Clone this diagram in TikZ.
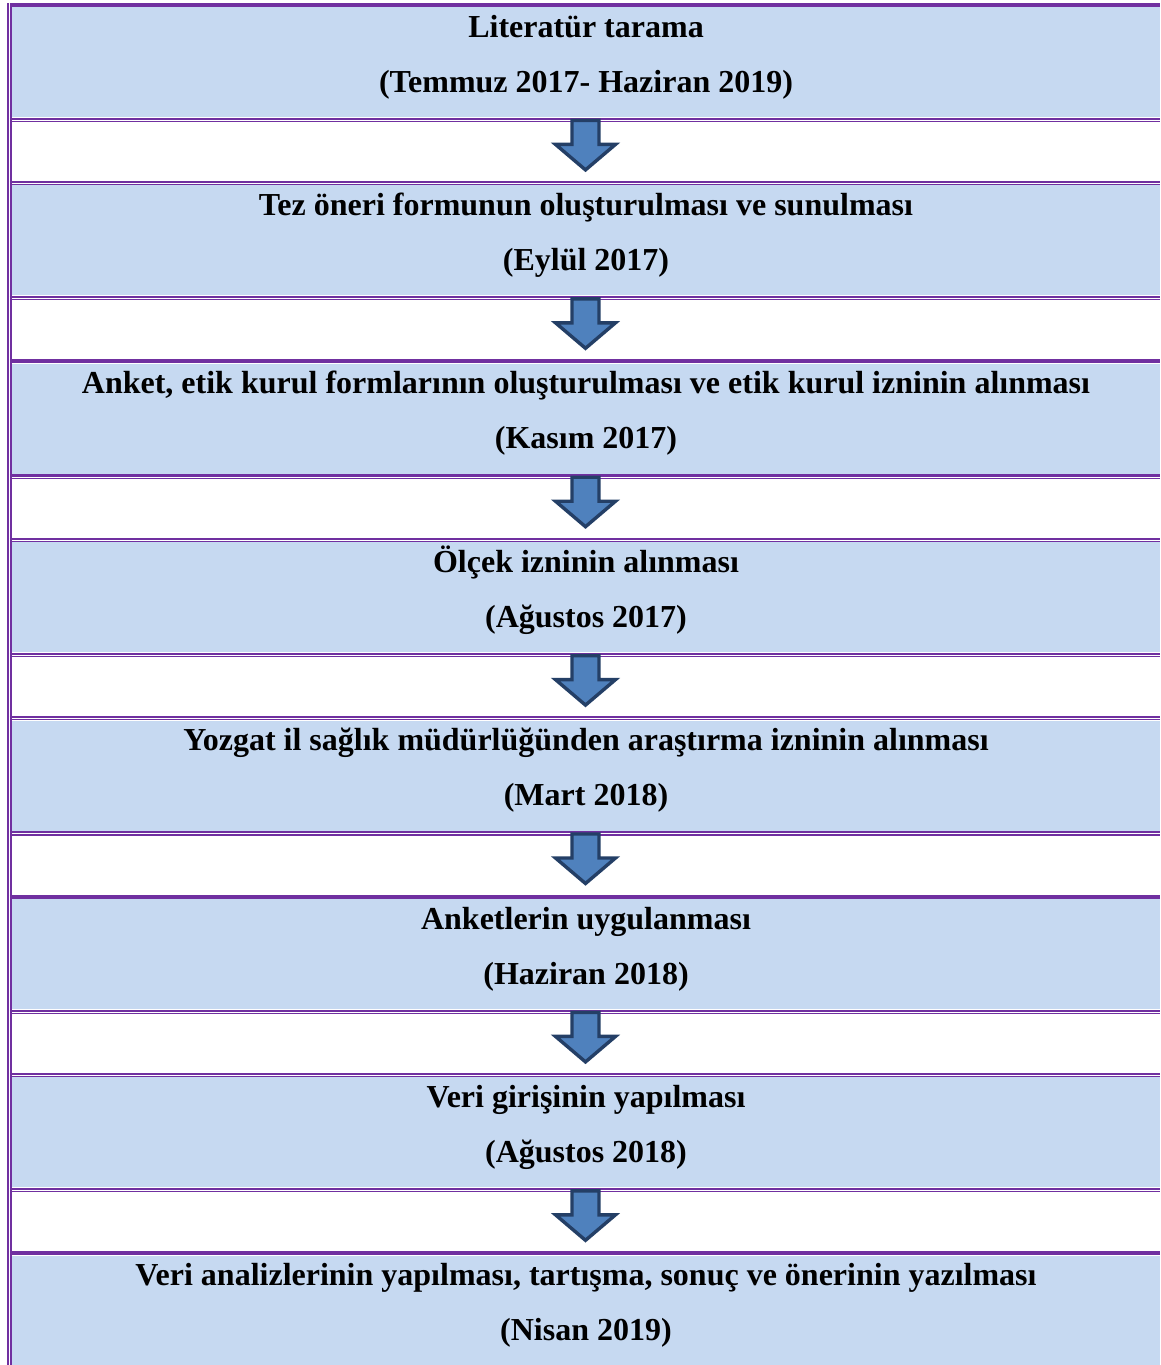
\documentclass[tikz,border=0pt]{standalone}
\usepackage{fontspec}
\setmainfont{Liberation Serif}
\definecolor{rowblue}{HTML}{C6D9F1}
\definecolor{rulepurple}{HTML}{7030A0}
\definecolor{arrowfill}{HTML}{4F81BD}
\definecolor{arrowline}{HTML}{243F66}
\begin{document}
\begin{tikzpicture}[
        x=1pt, y=-1pt,
        phase/.style={rectangle, fill=rowblue, minimum width=1148pt, minimum height=110pt, inner sep=0pt},
        phasetext/.style={anchor=base, inner sep=0pt, font=\fontsize{32}{38}\selectfont\bfseries},
        thickrule/.style={draw=rulepurple, line width=2.2pt},
        thinrule/.style={draw=rulepurple, line width=1.2pt},
        blockarrow/.style={fill=arrowfill, draw=arrowline, line width=3.4pt, line join=miter}
    ]
    
    \clip (0,0) rectangle (1160,1365);
    \fill[white] (0,0) rectangle (1160,1365);
    
    \foreach \i/\ttl/\dte in {
        1/{Literatür tarama}/{(Temmuz 2017- Haziran 2019)},
        2/{Tez öneri formunun oluşturulması ve sunulması}/{(Eylül 2017)},
        3/{Anket, etik kurul formlarının oluşturulması ve etik kurul izninin alınması}/{(Kasım 2017)},
        4/{Ölçek izninin alınması}/{(Ağustos 2017)},
        5/{Yozgat il sağlık müdürlüğünden araştırma izninin alınması}/{(Mart 2018)},
        6/{Anketlerin uygulanması}/{(Haziran 2018)},
        7/{Veri girişinin yapılması}/{(Ağustos 2018)},
        8/{Veri analizlerinin yapılması, tartışma, sonuç ve önerinin yazılması}/{(Nisan 2019)}} {
        \pgfmathsetmacro\y{(\i-1)*178.4}
        \node[phase] (p\i) at (586,62+\y) {};
        \node[phasetext] (head\i) at (586,37+\y) {\ttl};
        \node[phasetext] (date\i) at (586,92+\y) {\dte};
        % double rules above and below each row
        \draw[thickrule] ([xshift=-2pt,yshift=3.1pt]p\i.north west) -- ([yshift=3.1pt]p\i.north east);
        \draw[thinrule] ([xshift=-1pt,yshift=0.8pt]p\i.north west) -- ([yshift=0.8pt]p\i.north east);
        \draw[thickrule] ([xshift=-2pt,yshift=-1.5pt]p\i.south west) -- ([yshift=-1.5pt]p\i.south east);
        \draw[thinrule] ([xshift=-1pt,yshift=-4.2pt]p\i.south west) -- ([yshift=-4.2pt]p\i.south east);
    }
    
    \foreach \i in {1,...,7}
        \draw[blockarrow] ([xshift=-0.5pt,yshift=-3.2pt]p\i.south) ++(-13.5,0) -- ++(27,0) -- ++(0,24)
            -- ++(16.5,0) -- ++(-30,25.5) -- ++(-30,-25.5) -- ++(16.5,0) -- cycle;
    
    % left double border
    \draw[rulepurple, line width=2pt] (8,3) -- (8,1365);
    \draw[rulepurple, line width=1.6pt] (11,3) -- (11,1365);
    
\end{tikzpicture}
\end{document}
